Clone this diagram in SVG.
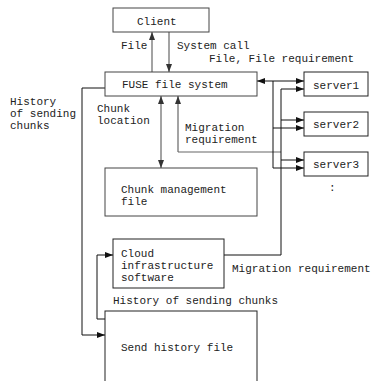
<svg xmlns="http://www.w3.org/2000/svg" width="371" height="381" viewBox="0 0 371 381">
<style>
text{font-family:"Liberation Mono","DejaVu Sans Mono",monospace;font-size:11px;fill:#222}
.box{fill:#fff;stroke:#222;stroke-width:1}
.gbox{fill:#fff;stroke:#444;stroke-width:1}
.c{fill:none;stroke:#111;stroke-width:1}
.g{fill:none;stroke:#666;stroke-width:1.2}
</style>
<defs>
<marker id="a" viewBox="0 0 8 6" refX="8" refY="3" markerWidth="8" markerHeight="6" markerUnits="userSpaceOnUse" orient="auto-start-reverse"><path d="M0,0L8,3L0,6Z" fill="#111"/></marker>
<marker id="ag" viewBox="0 0 8 6" refX="8" refY="3" markerWidth="8" markerHeight="6" markerUnits="userSpaceOnUse" orient="auto-start-reverse"><path d="M0,0L8,3L0,6Z" fill="#333"/></marker>
</defs>
<rect width="371" height="381" fill="#fff"/>
<g id="connectors">
<path class="g" d="M152,72V32" marker-end="url(#ag)"/>
<path class="g" d="M169,32V72" marker-end="url(#ag)"/>
<path class="g" d="M161,96V168" marker-start="url(#ag)" marker-end="url(#ag)"/>
<path class="g" d="M178,152V96" marker-end="url(#ag)"/>
<path class="g" d="M178,152H281"/>
<path class="c" d="M257,81H304" marker-start="url(#a)" marker-end="url(#a)"/>
<path class="c" d="M273,81V168"/>
<path class="c" d="M273,128H304" marker-end="url(#a)"/>
<path class="c" d="M273,168H304" marker-end="url(#a)"/>
<path class="c" d="M224,255H281V89H304" marker-end="url(#a)"/>
<path class="c" d="M281,120H304" marker-end="url(#a)"/>
<path class="c" d="M281,160H304" marker-end="url(#a)"/>
<path class="c" d="M105,88H82V335H105" marker-end="url(#a)"/>
<path class="c" d="M105,319H97V255H113" marker-end="url(#a)"/>
</g>
<g id="labels">
<text x="121" y="49">File</text>
<text x="177" y="49">System call</text>
<text x="209" y="62">File, File requirement</text>
<text x="10" y="105">History</text>
<text x="10" y="117">of sending</text>
<text x="10" y="129">chunks</text>
<text x="97" y="112">Chunk</text>
<text x="97" y="124">location</text>
<text x="185" y="131">Migration</text>
<text x="185" y="143">requirement</text>
<text x="232" y="272">Migration requirement</text>
<text x="113" y="304">History of sending chunks</text>
<text x="329" y="191">:</text>
</g>
<g id="client"><rect class="gbox" x="113" y="8" width="96" height="24"/><text x="137" y="25">Client</text></g>
<g id="fuse"><rect class="gbox" x="105" y="72" width="152" height="24"/><text x="122" y="88">FUSE file system</text></g>
<g id="server1"><rect class="box" x="304" y="72" width="64" height="24"/><text x="313" y="89">server1</text></g>
<g id="server2"><rect class="box" x="304" y="112" width="64" height="24"/><text x="313" y="128">server2</text></g>
<g id="server3"><rect class="box" x="304" y="152" width="64" height="24"/><text x="313" y="168">server3</text></g>
<g id="chunk"><rect class="gbox" x="105" y="168" width="152" height="48"/><text x="121" y="193">Chunk management</text><text x="121" y="205">file</text></g>
<g id="cloud"><rect class="box" x="113" y="239" width="111" height="49"/><text x="121" y="257">Cloud</text><text x="121" y="269">infrastructure</text><text x="121" y="281">software</text></g>
<g id="history"><rect class="box" x="105" y="311" width="152" height="90"/><text x="121" y="351">Send history file</text></g>
</svg>
